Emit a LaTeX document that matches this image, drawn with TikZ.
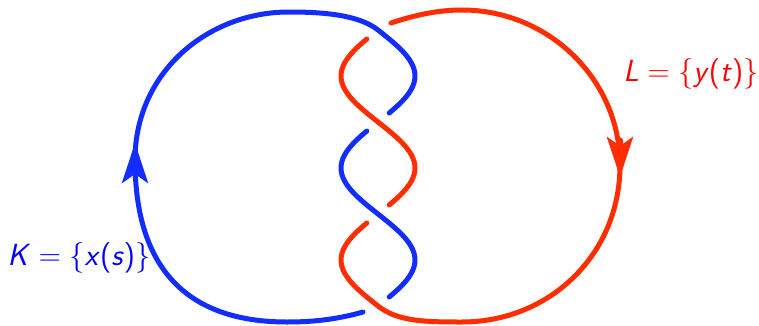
\documentclass[tikz,border=0pt]{standalone}
\usepackage{amsmath}
\usetikzlibrary{arrows.meta}
\definecolor{knotblue}{RGB}{20,45,255}
\definecolor{knotred}{RGB}{255,45,0}
\newcommand{\sfit}[1]{\textsf{\textit{#1}}}

\begin{document}
\begin{tikzpicture}[x=1pt, y=1pt, line cap=round, line join=round,
  knot/.style={line width=5pt},
  tip/.style={-{Stealth[length=40pt, width=26pt, inset=9pt]}},
  lbl/.style={font=\Huge, scale=1.23, transform shape},
  declare function={braid(\t)=37*sin((295-\t)/92*180);}]
  \useasboundingbox (0,0) rectangle (759,325);
  % ---------------------------------------------------------------- the two strands twist round x = 378
  % crossings at y = 295, 203, 111, 19; the lower strand stops 9pt short of each one
  % ---------------------------------------------------------------- K (blue)
  \draw[knot, knotblue] (363,13) .. controls (335,5) and (310,3) .. (287,3)
    .. controls (182,3) and (135,62) .. (135,165)
    .. controls (135,252) and (207,313) .. (289,313)
    .. controls (322,313) and (358.4,310.5) .. (378,295)
    -- plot[domain=295:212, samples=40, variable=\t] ({378+braid(\t)}, \t);
  \draw[knot, knotblue] plot[domain=194:28, samples=80, variable=\t] ({378+braid(\t)}, \t);
  \draw[knot, knotblue, tip] (135,145) -- (135,182);
  % ---------------------------------------------------------------- L (red)
  \draw[knot, knotred] (391,302) .. controls (415,310) and (438,315) .. (462,315)
    .. controls (549,315) and (620,245) .. (620,160)
    .. controls (620,70) and (549,3) .. (462,3)
    .. controls (425,3) and (397.6,3.5) .. (378,19)
    -- plot[domain=19:102, samples=40, variable=\t] ({378-braid(\t)}, \t);
  \draw[knot, knotred] plot[domain=286:120, samples=80, variable=\t] ({378-braid(\t)}, \t);
  \draw[knot, knotred, tip] (620,185) -- (620,148);
  % labels
  \node[lbl, text=blue] (labelK) at (79,67) {$\sfit{K} = \{\sfit{x}\textsf{(}\sfit{s}\textsf{)}\}$};
  \node[lbl, text=red] (labelL) at (691,251) {$\sfit{L} = \{\sfit{y}\textsf{(}\sfit{t}\textsf{)}\}$};
\end{tikzpicture}
\end{document}
